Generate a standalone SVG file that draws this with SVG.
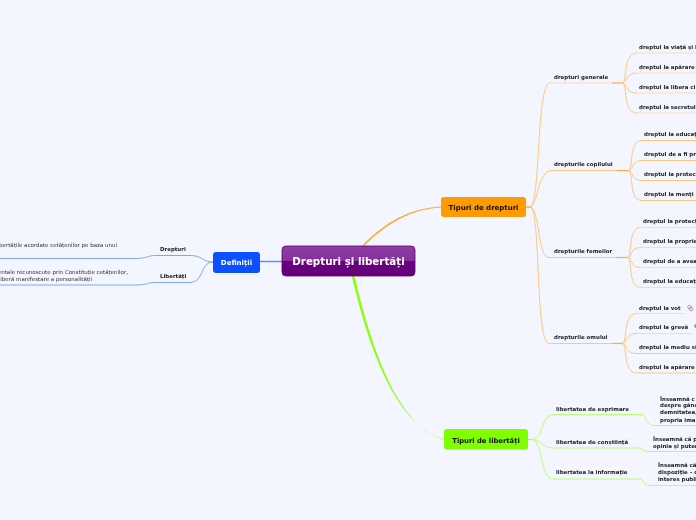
<svg xmlns="http://www.w3.org/2000/svg" width="696" height="520" viewBox="0 0 696 520">
<style>
text{font-family:"DejaVu Sans","Liberation Sans",sans-serif}
.o{fill:none;stroke:#ffc67c;stroke-width:1}
.ol{fill:none;stroke:#fbdcb8;stroke-width:1}
.g{fill:none;stroke:#b9ff73;stroke-width:1}
.b{fill:none;stroke:#7fa6ff;stroke-width:1}
.s{font-size:5.45px;font-weight:700;fill:#222}
.d{font-size:5.5px;fill:#333}
</style>
<defs>
<linearGradient id="pg" x1="0" y1="0" x2="0" y2="1">
<stop offset="0" stop-color="#8e3ea6"/><stop offset=".5" stop-color="#84309a"/><stop offset=".5" stop-color="#6a0080"/><stop offset="1" stop-color="#650079"/>
</linearGradient>
<filter id="gray" filterUnits="userSpaceOnUse" x="0" y="0" width="696" height="520" color-interpolation-filters="sRGB"><feOffset dx="0" dy="0"/></filter>
</defs>
<rect width="696" height="520" fill="#f3f6fe"/>
<g filter="url(#gray)">
<g id="connectors">
<path d="M362 246C385 222 410 208 441 206.500L441 207.500C411 209 386 224 364 246Z" fill="#ffa938"/>
<path d="M351.800 276C366.800 340.500 394 425.500 444 439L444 439.500C396 427 369.500 340.500 354.500 276Z" fill="#8cff0a"/>
<path d="M282 261.500L260 261.500" fill="none" stroke="#5c8dff" stroke-width="1.500"/>
<path d="M526 207H532" fill="none" stroke="#ffa938" stroke-width="1.500"/>
<path class="o" d="M530 207C541 203 536 83 550 83"/>
<path class="ol" d="M550 83H612"/><path d="M612 83H622" stroke="#ffab38" stroke-width="1.200" fill="none"/>
<path class="o" d="M530 207C538 207 537 170.500 552 170.500H617"/><path d="M617 170.500H628" stroke="#ffab38" stroke-width="1.200" fill="none"/>
<path class="o" d="M530 207C540 207 537 257.500 549 257.500H616"/><path d="M616 257.500H627" stroke="#ffab38" stroke-width="1.200" fill="none"/>
<path class="o" d="M530 207C541 207 535 343.500 549 343.500H612"/><path d="M612 343.500H622" stroke="#ffab38" stroke-width="1.200" fill="none"/>
<path class="o" d="M622 83C628 83 622 53 637 53"/><path class="ol" d="M637 53H696"/>
<path class="o" d="M622 83C628 83 624 73 637 73"/><path class="ol" d="M637 73H696"/>
<path class="o" d="M622 83C628 83 624 93 637 93"/><path class="ol" d="M637 93H696"/>
<path class="o" d="M622 83C628 83 622 113 637 113"/><path class="ol" d="M637 113H696"/>
<path class="o" d="M628 170.500C634 170.500 628 140.500 642 140.500H696"/>
<path class="o" d="M628 170.500C634 170.500 630 160.500 642 160.500H696"/>
<path class="o" d="M628 170.500C634 170.500 630 180.500 642 180.500H696"/>
<path class="o" d="M628 170.500C634 170.500 628 200.500 642 200.500H696"/>
<path class="o" d="M627 257.500C633 257.500 627 227.500 641 227.500"/><path class="ol" d="M641 227.500H696"/>
<path class="o" d="M627 257.500C633 257.500 629 247.500 641 247.500"/><path class="ol" d="M641 247.500H696"/>
<path class="o" d="M627 257.500C633 257.500 629 267.500 641 267.500"/><path class="ol" d="M641 267.500H696"/>
<path class="o" d="M627 257.500C633 257.500 627 287.500 641 287.500"/><path class="ol" d="M641 287.500H696"/>
<path class="o" d="M622 343.500C628 343.500 622 313.500 637 313.500"/><path class="ol" d="M637 313.500H685"/>
<path class="o" d="M622 343.500C628 343.500 624 333.500 637 333.500"/><path class="ol" d="M637 333.500H692"/>
<path class="o" d="M622 343.500C628 343.500 624 353.500 637 353.500H696"/>
<path class="o" d="M622 343.500C628 343.500 622 373 637 373H696"/>
<path d="M528 439.500H533" fill="none" stroke="#a5ff45" stroke-width="1.200"/>
<path class="g" d="M532 439.500C544 439.500 540 414.500 554 414.500H642C646 414.500 644 425.500 655 425.500H696"/>
<path class="g" d="M532 439.500C542 439.500 541 448 554 448H638C642 448 642 451.500 650 451.500H696"/>
<path class="g" d="M532 439.500C543 439.500 539 479 554 479H640C644 479 642 485.500 652 485.500H696"/>
<path class="b" d="M213 262C202 262 203 255.500 190 255.500H155C148 255.500 147 258.500 135 258.500H0"/>
<path class="b" d="M213 262C200 262 204 282.500 190 282.500H155C148 282.500 147 285 135 285H0"/>
</g>
<g id="central"><rect x="282" y="246" width="133" height="30" rx="4" fill="url(#pg)" stroke="#5d0070" stroke-width=".8"/><text x="348.500" y="265.200" text-anchor="middle" font-size="10.300" font-weight="700" fill="#fff">Drepturi și libertăți</text></g>
<g id="definitii"><rect x="213" y="252" width="47" height="21" rx="3" fill="#0a50ff"/><text x="236.500" y="265" text-anchor="middle" font-size="7" font-weight="700" fill="#fff">Definiții</text></g>
<g id="tipuri-drepturi"><rect x="441" y="197" width="85" height="20" rx="3" fill="#ff9a00"/><text x="483.500" y="209.500" text-anchor="middle" font-size="7" font-weight="700" fill="#111">Tipuri de drepturi</text></g>
<g id="tipuri-libertati"><rect x="444" y="429" width="84" height="20.500" rx="3" fill="#80ff00"/><text x="486" y="442.500" text-anchor="middle" font-size="6.800" font-weight="700" fill="#111">Tipuri de libertăți</text></g>
<g id="n-drepturi"><text class="s" x="160" y="251">Drepturi</text><text class="d" x="117" y="247" text-anchor="end">bertățile acordate cetățenilor pe baza unui</text></g>
<g id="n-libertati"><text class="s" x="160" y="278">Libertăți</text><text class="d" x="128" y="274" text-anchor="end">entale recunoscute prin Constituție cetățenilor,</text><text class="d" x="92" y="281" text-anchor="end">liberă manifestare a personalității</text></g>
<g id="generale"><text class="s" x="554" y="79">drepturi generale</text>
<text class="s" x="639" y="49">dreptul la viață și l</text><text class="s" x="639" y="69">dreptul la apărare</text><text class="s" x="639" y="89">dreptul la libera ci</text><text class="s" x="639" y="108.500">dreptul la secretul</text></g>
<g id="copilului"><text class="s" x="554" y="166">drepturile copilului</text>
<text class="s" x="644" y="136">dreptul la educați</text><text class="s" x="644" y="156">dreptul de a fi pr</text><text class="s" x="644" y="176">dreptul la protect</text><text class="s" x="644" y="196">dreptul la menți</text></g>
<g id="femeilor"><text class="s" x="554" y="253">drepturile femeilor</text>
<text class="s" x="643" y="223">dreptul la protecți</text><text class="s" x="643" y="243">dreptul la proprie</text><text class="s" x="643" y="263">dreptul de a avea</text><text class="s" x="643" y="283">dreptul la educați</text></g>
<g id="omului"><text class="s" x="554" y="339">drepturile omului</text>
<text class="s" x="639" y="310">dreptul la vot</text><text class="s" x="639" y="329">dreptul la grevă</text><text class="s" x="639" y="349">dreptul la mediu si</text><text class="s" x="639" y="368.500">dreptul la apărare</text>
<circle cx="689.500" cy="307" r="1.800" fill="none" stroke="#999" stroke-width=".8"/><circle cx="691" cy="309" r="1.800" fill="none" stroke="#e46a6a" stroke-width=".8"/><circle cx="696" cy="326" r="2" fill="#999"/></g>
<g id="exprimare"><text class="s" x="556" y="411">libertatea de exprimare</text>
<text class="s" x="660" y="400.500">Înseamnă c</text><text class="s" x="660" y="407">despre gânc</text><text class="s" x="660" y="414">demnitatea,</text><text class="s" x="660" y="421.500">propria ima</text></g>
<g id="constiinta"><text class="s" x="556" y="444">libertatea de conștiință</text>
<text class="s" x="653" y="441">Înseamnă că p</text><text class="s" x="653" y="447.500">opinia și puter</text></g>
<g id="informatie"><text class="s" x="556" y="474">libertatea la informație</text>
<text class="s" x="658" y="467">Înseamnă că</text><text class="s" x="658" y="473.500">dispoziție – d</text><text class="s" x="658" y="481">interes publi</text></g>
</g>
</svg>
